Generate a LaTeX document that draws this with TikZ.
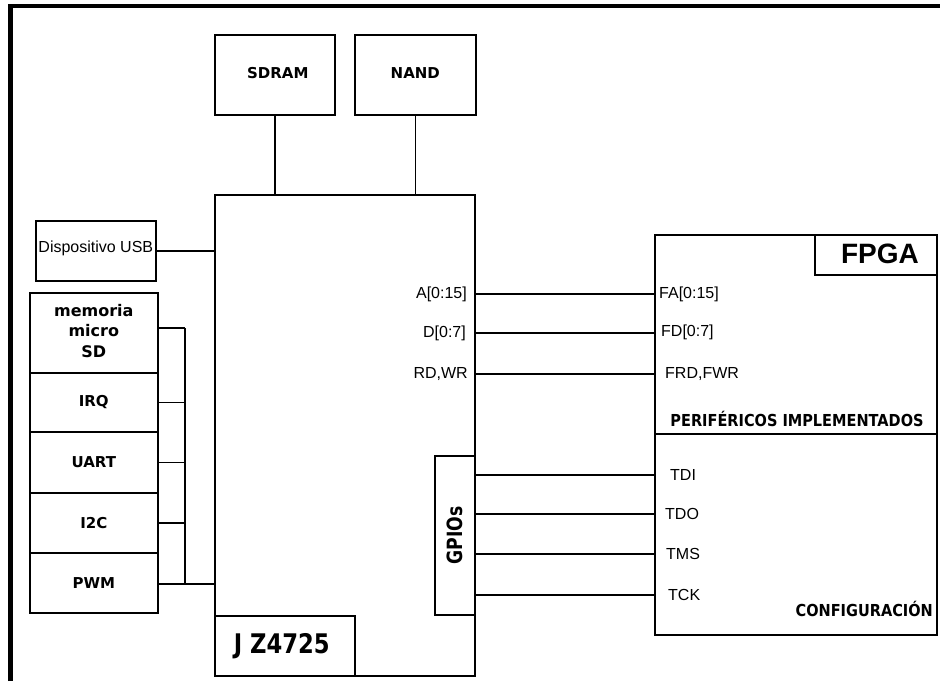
\documentclass[tikz,border=0pt]{standalone}
\usepackage{fontspec}
\usepackage{graphicx}
\setmainfont{Liberation Sans}
\newfontfamily\dv{DejaVu Sans}
\usetikzlibrary{calc}
\newcommand{\fs}[1]{\fontsize{#1}{#1}\selectfont}
\newcommand{\sq}[2]{\scalebox{#1}[1]{#2}}
\tikzset{
  box/.style={draw, line width=1.6pt, inner sep=0pt, anchor=north west},
  conn/.style={line width=1.4pt},
  lbl/.style={inner sep=0pt, font=\fs{16}},
  blbl/.style={inner sep=0pt, font=\dv\bfseries\fs{15}},
}
\begin{document}
\begin{tikzpicture}[x=1pt,y=-1pt]
\useasboundingbox (0,0) rectangle (940,681);
% outer frame
\draw[line width=4.3pt] (10.5,681) -- (10.5,6.2) -- (940,6.2);
% boxes
\node[box, minimum width=120pt, minimum height=80pt] (sdram) at (214,34) {};
\node[blbl] at ($(sdram.center)+(3,-2)$) {SDRAM};
\node[box, minimum width=121pt, minimum height=80pt] (nand) at (354,34) {};
\node[blbl] at ($(nand.center)+(0,-2)$) {NAND};
\node[box, minimum width=260pt, minimum height=481pt] (jz) at (214,194) {};
\node[box, minimum width=140pt, minimum height=60pt] (jzl) at (214,615) {};
\node[inner sep=0pt, font=\dv\bfseries\fs{27}] at ($(jzl.center)+(-3,0)$) {\sq{0.84}{J Z4725}};
\node[box, minimum width=120pt, minimum height=60pt] (usb) at (35,220) {};
\node[lbl] at ($(usb.center)+(0,-2)$) {Dispositivo USB};
\node[box, minimum width=128pt, minimum height=80pt] (mem) at (29,292) {};
\node[inner sep=0pt, align=center, font=\dv\bfseries\fontsize{16}{20.5}\selectfont] at ($(mem.center)+(0,-2)$) {memoria\\micro\\SD};
\node[box, minimum width=128pt, minimum height=59pt] (irq) at (29,372) {};
\node[blbl] at (irq.center) {IRQ};
\node[box, minimum width=128pt, minimum height=61pt] (uart) at (29,431) {};
\node[blbl] at (uart.center) {UART};
\node[box, minimum width=128pt, minimum height=60pt] (i2c) at (29,492) {};
\node[blbl] at (i2c.center) {I2C};
\node[box, minimum width=128pt, minimum height=60pt] (pwm) at (29,552) {};
\node[blbl] at (pwm.center) {PWM};
\node[box, minimum width=282pt, minimum height=400pt] (fpga) at (654,234) {};
\node[box, minimum width=122pt, minimum height=40pt] (fpgat) at (814,234) {};
\node[inner sep=0pt, font=\bfseries\fs{28}] at (880,254) {FPGA};
\node[box, minimum width=40pt, minimum height=159pt] (gpio) at (434,455) {};
\node[inner sep=0pt, rotate=90, font=\dv\bfseries\fs{21}] at ($(gpio.center)+(0,0)$) {\sq{0.82}{GPIOs}};
% divider in FPGA
\coordinate (dv) at (654,434);
\draw[line width=1.4pt] (dv) -- (dv -| fpga.east);
\node[inner sep=0pt, font=\dv\bfseries\fs{16.5}] at (797,419) {\sq{0.88}{PERIFÉRICOS IMPLEMENTADOS}};
\node[inner sep=0pt, anchor=east, font=\dv\bfseries\fs{16.5}] at (933,609) {\sq{0.88}{CONFIGURACIÓN}};
% signal labels
\node[lbl, anchor=east] (a) at (467,294) {A[0:15]};
\node[lbl, anchor=east] (d) at (466,333) {D[0:7]};
\node[lbl, anchor=east] (rw) at (468,374) {RD,WR};
\node[lbl, anchor=west] (fa) at (659,294) {FA[0:15]};
\node[lbl, anchor=west] (fd) at (661,332) {FD[0:7]};
\node[lbl, anchor=west] (frw) at (665,374) {FRD,FWR};
\node[lbl, anchor=west] (tdi) at (670,475) {TDI};
\node[lbl, anchor=west] (tdo) at (665,514) {TDO};
\node[lbl, anchor=west] (tms) at (666,554) {TMS};
\node[lbl, anchor=west] (tck) at (668,595) {TCK};
% connectors
\draw[conn] (sdram.south) -- (sdram.south |- jz.north);
\draw[conn] (nand.south) -- (nand.south |- jz.north);
\draw[conn] (usb.east) -- (usb.east -| jz.west);
\draw[conn] (jz.east |- a) -- (fpga.west |- a);
\draw[conn] (jz.east |- d) -- (fpga.west |- d);
\draw[conn] (jz.east |- rw) -- (fpga.west |- rw);
\draw[conn] (gpio.east |- tdi) -- (fpga.west |- tdi);
\draw[conn] (gpio.east |- tdo) -- (fpga.west |- tdo);
\draw[conn] (gpio.east |- tms) -- (fpga.west |- tms);
\draw[conn] (gpio.east |- tck) -- (fpga.west |- tck);
% peripheral bus
\coordinate (bt) at (185,328);
\coordinate (bb) at (185,584);
\draw[conn] (bt) -- (bb);
\draw[conn] (mem.east |- bt) -- (bt);
\draw[conn] (irq.east) -- (irq.east -| bt);
\draw[conn] (uart.east) -- (uart.east -| bt);
\draw[conn] (i2c.east) -- (i2c.east -| bt);
\draw[conn] (pwm.east |- bb) -- (bb) -- (bb -| jz.west);
\end{tikzpicture}
\end{document}
